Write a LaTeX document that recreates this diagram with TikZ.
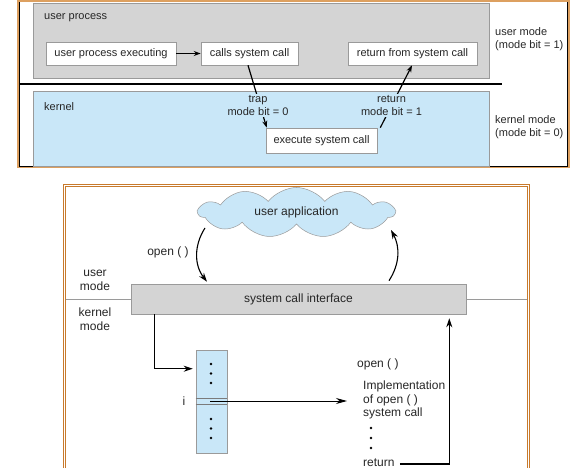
\documentclass[tikz,border=0pt]{standalone}
\usepackage{fontspec}
\setmainfont{Liberation Sans}
\usetikzlibrary{shapes.symbols,arrows.meta,calc}
\definecolor{framea}{HTML}{DDA060}
\definecolor{frameb}{HTML}{C87A2C}
\definecolor{gbox}{HTML}{D4D4D4}
\definecolor{gline}{HTML}{9A9A9A}
\definecolor{kblue}{HTML}{C9E7F8}
\definecolor{txt}{HTML}{262626}
\begin{document}
\begin{tikzpicture}[x=1pt,y=-1pt,
  topfont/.style={font=\fontsize{11}{13}\selectfont, text=txt},
  botfont/.style={font=\fontsize{12}{13.6}\selectfont, text=txt},
  tbox/.style={topfont, draw=gline, fill=white, line width=0.6pt, minimum height=23pt, inner sep=0pt},
  lbl/.style={inner sep=0pt},
  arr/.style={line width=1.2pt, -{Stealth[length=7pt,width=5pt]}},
  barr/.style={line width=1.1pt, -{Stealth[length=9pt,width=6pt]}},
  dot/.style={fill=black, circle, inner sep=0pt, minimum size=2.6pt}
]
\useasboundingbox (0,0) rectangle (576,473);

% ---------------- top panel ----------------
\draw[framea, line width=1.6pt] (18,1) -- (18,167.6) -- (569.2,167.6) -- (569.2,1) -- cycle;
\draw[black, line width=0.9pt] (19.5,2.5) -- (19.5,166) -- (567.5,166) -- (567.5,2.5);
\draw[gline, fill=gbox, line width=0.5pt] (33,3) rectangle (489,78);
\draw[gline, fill=kblue, line width=0.5pt] (33,91) rectangle (489,166);
\draw[black, line width=1.2pt] (19,84) -- (502,84);

\node[lbl, topfont, anchor=west] (up) at (44,18) {user process};
\node[lbl, topfont, anchor=west] (kn) at (44,107) {kernel};
\node[lbl, topfont, anchor=west, align=left] (um) at (495,39.5) {user mode\\(mode bit = 1)};
\node[lbl, topfont, anchor=west, align=left] (km) at (495,127) {kernel mode\\(mode bit = 0)};

\node[tbox, minimum width=130pt] (upe) at (111,53.5) {user process executing};
\node[tbox, minimum width=97pt] (csc) at (249.5,53.5) {calls system call};
\node[tbox, minimum width=129pt] (rfs) at (412.5,53.5) {return from system call};
\node[tbox, minimum width=111pt, minimum height=25pt] (esc) at (321.5,140.5) {execute system call};

\draw[arr] (upe) -- (csc);
\draw[arr] ($(csc.south)+(-1.5,0)$) -- ($(esc.north west)+(1,0)$);
\draw[arr] ($(esc.north east)+(3,0)$) -- ($(rfs.south)+(-0.5,0)$);
\node[topfont, fill=kblue, inner sep=1pt, align=center] (trap) at (258,105.5) {trap\\mode bit = 0};
\node[topfont, fill=kblue, inner sep=1pt, align=center] (ret1) at (391.5,105.5) {return\\mode bit = 1};

% ---------------- bottom panel ----------------
\draw[frameb, line width=0.9pt] (63,468) -- (63,184.5) -- (529,184.5) -- (529,468);
\draw[frameb, line width=0.6pt] (65.2,468) -- (65.2,186.8) -- (526.8,186.8) -- (526.8,468);
\draw[gline, line width=0.6pt] (65.5,299) -- (526.5,299);

\node[cloud, cloud puffs=11, cloud puff arc=105, aspect=3.9, draw=gline, fill=kblue,
      line width=0.5pt, minimum width=196pt, minimum height=50pt, botfont, inner sep=0pt]
      (app) at (296.5,212.5) {user application};

\node[botfont, draw=gline, fill=gbox, line width=0.6pt, minimum width=335pt, minimum height=30pt, inner sep=0pt]
      (sci) at (298.5,299) {system call interface};

\node[lbl, botfont] (op1) at (168,252) {open ( )};
\node[lbl, botfont, align=center] (um2) at (95,280.5) {user\\mode};
\node[lbl, botfont, align=center] (km2) at (95,319) {kernel\\mode};

\draw[barr] ($(app.center)+(-91.5,15.5)$) .. controls ($(app.center)+(-102.5,32.5)$) and ($(app.center)+(-102.5,52.5)$) .. ($(sci.north)+(-91.5,-2)$);
\draw[barr] ($(sci.north)+(90.5,-3)$) .. controls ($(sci.north)+(101.5,-20)$) and ($(sci.north)+(101.5,-37)$) .. ($(app.center)+(94.5,17.5)$);

% table
\node[draw=gline, fill=kblue, line width=0.6pt, minimum width=31pt, minimum height=103pt, inner sep=0pt]
      (tbl) at (211.5,401.5) {};
\draw[gline!80!black, line width=0.7pt] ($(tbl.west)+(0,-3.5)$) -- ($(tbl.east)+(0,-3.5)$);
\draw[gline!80!black, line width=0.7pt] ($(tbl.west)+(0,2.5)$) -- ($(tbl.east)+(0,2.5)$);
\foreach \yy [count=\k] in {364,373.5,383,419,428.5,438} \node[dot] (d\k) at (211,\yy) {};
\node[lbl, botfont] (iv) at (184,401) {i};

\draw[barr] ($(sci.south west)+(24,0)$) |- ($(tbl.north west)+(-3,19)$);

\node[lbl, botfont, anchor=west] (op2) at (357,364) {open ( )};
\node[lbl, botfont, anchor=west, align=left] (impl) at (363,400) {Implementation\\of open ( )\\system call};
\foreach \yy [count=\k] in {428,438,448} \node[dot] (e\k) at (371,\yy) {};
\node[lbl, botfont, anchor=west] (ret) at (363,463) {return};

\draw[line width=1pt, -{Stealth[length=11pt,width=6pt]}] ($(tbl.center)+(-1.5,-0.5)$) -- ($(impl.west)+(-16,1)$);
\draw[barr] ($(ret.east)+(5,1)$) -| ($(sci.south east)+(-17,4)$);
\end{tikzpicture}
\end{document}
